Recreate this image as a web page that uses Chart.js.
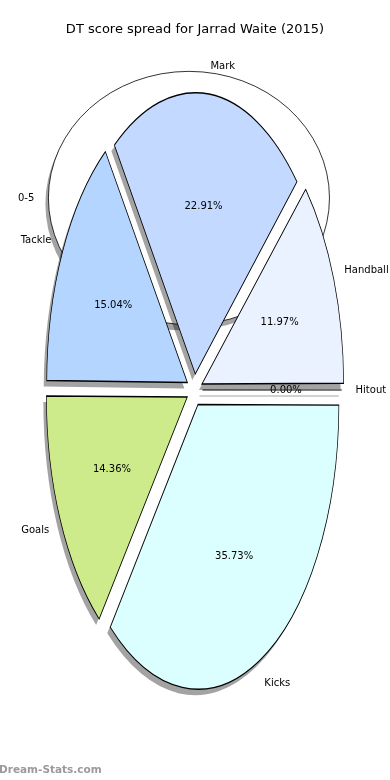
<!DOCTYPE html>
<html>
<head>
<meta charset="utf-8">
<script src="https://cdn.jsdelivr.net/npm/chart.js@4.4.1/dist/chart.umd.min.js"></script>
<style>
  html, body { margin: 0; padding: 0; background: #fff; }
  canvas { display: block; }
</style>
</head>
<body>
<canvas id="spreadChart" width="390" height="780"></canvas>
<script>
const categories = ['Kicks', 'Goals', 'Tackle', '0-5', 'Mark', 'Handball', 'Hitout'];
const shares = [35.73, 14.36, 15.04, 0.00, 22.91, 11.97, 0.00];
const titleText = 'DT score spread for Jarrad Waite (2015)';
const watermark = 'Dream-Stats.com';

const sliceColors = ['#DBFFFF', '#CDEB8B', '#B3D5FF', '#FFFFFF', '#C3D9FF', '#EBF2FF', '#FFFFFF'];

const STRETCH = 2.02;           // original axes were about twice as tall as wide
const SHADOW_DX = -3, SHADOW_DY = 6;
const SHADOW_COLOR = 'rgba(0, 0, 0, 0.36)';
const LABEL_FONT = '10px "DejaVu Sans"';

function pct(v) {
    return v.toFixed(2) + '%';
}

// zero-width slice drawn as a line from its exploded centre (Hitout)
function zeroLine(ctx, arc, color) {
    const a = arc.startAngle;
    const d = (arc.options.offset || 0) / 4;
    ctx.save();
    ctx.strokeStyle = color;
    ctx.lineWidth = 0.6;
    ctx.beginPath();
    ctx.moveTo(arc.x + d * Math.cos(a), arc.y + d * Math.sin(a));
    ctx.lineTo(arc.x + (d + arc.outerRadius) * Math.cos(a), arc.y + (d + arc.outerRadius) * Math.sin(a));
    ctx.stroke();
    ctx.restore();
}

const stretchedPie = {
    id: 'stretchedPie',
    beforeDatasetsDraw(chart) {
        const ctx = chart.ctx;
        const meta = chart.getDatasetMeta(0);
        const cx = meta.data[0].x, cy = meta.data[0].y, R = meta.data[0].outerRadius;
        const last = meta.data.length - 1;

        // the 0-5 slice (0%) shows up in the original as a stray full ring behind the pie
        meta.data.forEach((arc, i) => {
            if (shares[i] !== 0 || i === last) return;
            const ex = cx - R * 0.04, ey = cy - R * 1.38;
            const rx = R * 1.01, ry = R * 0.91;
            ctx.save();
            ctx.fillStyle = SHADOW_COLOR;
            ctx.beginPath();
            ctx.ellipse(ex + SHADOW_DX, ey + SHADOW_DY, rx, ry, 0, 0, Math.PI * 2);
            ctx.fill();
            ctx.fillStyle = sliceColors[i];
            ctx.strokeStyle = '#000';
            ctx.lineWidth = 0.8;
            ctx.beginPath();
            ctx.ellipse(ex, ey, rx, ry, 0, 0, Math.PI * 2);
            ctx.fill();
            ctx.stroke();
            ctx.fillStyle = '#000';
            ctx.font = LABEL_FONT;
            ctx.textBaseline = 'middle';
            ctx.textAlign = 'right';
            ctx.fillText(categories[i], ex - 1.1 * rx, ey);
            ctx.textAlign = 'center';
            ctx.fillText(pct(shares[i]), ex - 0.6 * rx, ey);
            ctx.restore();
        });

        // stretch vertically around the pie centre; restored in afterDatasetsDraw
        ctx.save();
        ctx.translate(0, cy);
        ctx.scale(1, STRETCH);
        ctx.translate(0, -cy);

        // shadows first, under every wedge
        ctx.save();
        ctx.translate(SHADOW_DX, SHADOW_DY / STRETCH);
        meta.data.forEach((arc, i) => {
            if (shares[i] === 0) {
                if (i === last) zeroLine(ctx, arc, SHADOW_COLOR);
                return;
            }
            const opts = arc.options;
            arc.options = Object.assign({}, opts, { backgroundColor: SHADOW_COLOR, borderWidth: 0 });
            arc.draw(ctx);
            arc.options = opts;
        });
        ctx.restore();
    },
    afterDatasetsDraw(chart) {
        const ctx = chart.ctx;
        const meta = chart.getDatasetMeta(0);
        const last = meta.data.length - 1;
        zeroLine(ctx, meta.data[last], '#000');
        ctx.restore();

        ctx.save();
        ctx.font = LABEL_FONT;
        ctx.fillStyle = '#000';
        ctx.textBaseline = 'middle';
        meta.data.forEach((arc, i) => {
            if (shares[i] === 0 && i !== last) return;
            const mid = (arc.startAngle + arc.endAngle) / 2;
            const d = (arc.options.offset || 0) / 4;
            const R = arc.outerRadius;
            const ox = arc.x + d * Math.cos(mid);
            const oy = arc.y + STRETCH * d * Math.sin(mid);
            const lx = ox + 1.1 * R * Math.cos(mid);
            const ly = oy + STRETCH * 1.1 * R * Math.sin(mid);
            ctx.textAlign = Math.cos(mid) > 0 ? 'left' : 'right';
            ctx.fillText(categories[i], lx, ly);
            ctx.textAlign = 'center';
            ctx.fillText(pct(shares[i]), ox + 0.6 * R * Math.cos(mid), oy + STRETCH * 0.6 * R * Math.sin(mid));
        });
        ctx.restore();
    },
    afterDraw(chart) {
        const ctx = chart.ctx;
        ctx.save();
        ctx.fillStyle = '#000';
        ctx.font = '13px "DejaVu Sans"';
        ctx.textAlign = 'center';
        ctx.textBaseline = 'middle';
        ctx.fillText(titleText, chart.width / 2, 30);
        ctx.fillStyle = '#9a9a9a';
        ctx.font = 'bold 10.5px "DejaVu Sans"';
        ctx.textAlign = 'left';
        ctx.fillText(watermark, -1, 770);
        ctx.restore();
    }
};

const ctx = document.getElementById('spreadChart').getContext('2d');

new Chart(ctx, {
    type: 'pie',
    data: {
        labels: categories,
        datasets: [{
            data: shares,
            backgroundColor: sliceColors,
            borderColor: '#000',
            borderWidth: 0.7,
            borderJoinStyle: 'miter',
            offset: 32,
            hoverOffset: 0,
            clip: false
        }]
    },
    options: {
        responsive: false,
        devicePixelRatio: 1,
        animation: false,
        rotation: 90,
        layout: { padding: { left: 39, right: 40, top: 230, bottom: 230 } },
        plugins: {
            legend: { display: false },
            tooltip: { enabled: false }
        }
    },
    plugins: [stretchedPie]
});
</script>
</body>
</html>
